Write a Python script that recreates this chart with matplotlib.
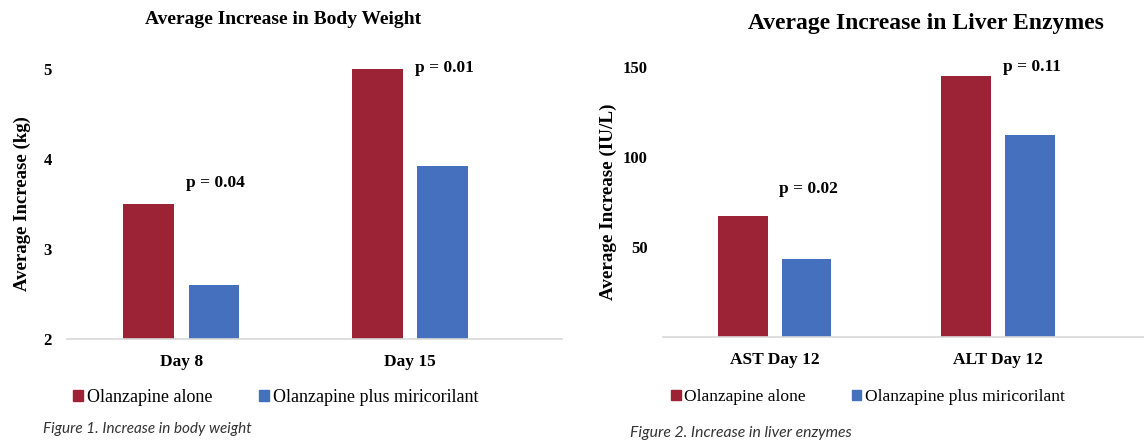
import numpy as np
from matplotlib import pyplot as plt
from matplotlib.patches import Patch

# Figure 1 - body weight
weight_days = ['Day 8', 'Day 15']
weight_alone = [3.5, 5.0]
weight_plus = [2.6, 3.92]
weight_p = ['p = 0.04', 'p = 0.01']
weight_p_y = [3.73, 5.01]

# Figure 2 - liver enzymes
liver_days = ['AST Day 12', 'ALT Day 12']
liver_alone = [67, 145]
liver_plus = [43, 112]
liver_p = ['p = 0.02', 'p = 0.11']
liver_p_y = [82, 150]

series_names = ['Olanzapine alone', 'Olanzapine plus miricorilant']
red = '#9B2335'
blue = '#4470BD'
serif = 'Liberation Serif'

W, H = 1144, 441
fig = plt.figure(figsize=(W / 100, H / 100), dpi=100)


def px_axes(x0, x1, ybot, ytop):
  return fig.add_axes([x0 / W, (H - ybot) / H, (x1 - x0) / W, (ybot - ytop) / H])


def draw_panel(ax, cats, alone, plus, plabels, ply, ylim, yticks, ylabel, xright,
               ylabelsize, ylabelpad):
  idx = np.arange(len(cats))
  base = ylim[0]
  bw = 0.222
  off = 0.143
  # bars rise from the bottom of the axis
  ax.bar(idx - off, np.array(alone) - base, bw, bottom=base, color=red)
  ax.bar(idx + off, np.array(plus) - base, bw, bottom=base, color=blue)
  ax.set_ylim(*ylim)
  ax.set_xlim(-0.5, xright)
  ax.set_yticks(yticks)
  ax.set_yticklabels([str(t) for t in yticks], fontfamily=serif, fontweight='bold', fontsize=12)
  ax.set_xticks(idx)
  ax.set_xticklabels(cats, fontfamily=serif, fontweight='bold', fontsize=12.5)
  ax.tick_params(axis='y', length=0, pad=11)
  ax.tick_params(axis='x', length=0, pad=11)
  for s in ['top', 'right', 'left']:
    ax.spines[s].set_visible(False)
  ax.spines['bottom'].set_color('#d9d9d9')
  ax.spines['bottom'].set_linewidth(1.2)
  ax.set_ylabel(ylabel, fontfamily=serif, fontweight='bold', fontsize=ylabelsize,
                labelpad=ylabelpad)
  for i, (t, y) in enumerate(zip(plabels, ply)):
    ax.text(i + 0.15, y, t, ha='center', va='center', fontfamily=serif,
            fontweight='bold', fontsize=12.5)


ax1 = px_axes(67, 562, 339, 69)
draw_panel(ax1, weight_days, weight_alone, weight_plus, weight_p, weight_p_y,
           (2, 5), [2, 3, 4, 5], 'Average Increase (kg)', 1.665, 13.5, 9)

ax2 = px_axes(663, 1144, 336.5, 67)
draw_panel(ax2, liver_days, liver_alone, liver_plus, liver_p, liver_p_y,
           (0, 150), [50, 100, 150], 'Average Increase (IU/L)', 1.653, 13.8, 4)

# titles
fig.text(283 / W, 1 - 19 / H, 'Average Increase in Body Weight', ha='center', va='center',
         fontfamily=serif, fontweight='bold', fontsize=14)
fig.text(926 / W, 1 - 23 / H, 'Average Increase in Liver Enzymes', ha='center', va='center',
         fontfamily=serif, fontweight='bold', fontsize=17)

# legends
handles = [Patch(color=red), Patch(color=blue)]
for xc, size in [(276, 13), (868, 12.6)]:
  fig.legend(handles, series_names, loc='center', bbox_to_anchor=(xc / W, 1 - 397 / H),
             ncol=2, frameon=False, prop={'family': serif, 'size': size},
             handlelength=0.55, handleheight=0.55, handletextpad=0.2, columnspacing=2.6)

# captions
fig.text(43 / W, 1 - 429 / H, 'Figure 1. Increase in body weight', ha='left', va='center',
         fontfamily='Lato', style='italic', fontsize=11, color='#333333')
fig.text(630 / W, 1 - 433 / H, 'Figure 2. Increase in liver enzymes', ha='left', va='center',
         fontfamily='Lato', style='italic', fontsize=11.3, color='#333333')

plt.savefig('out.png', dpi=100)
